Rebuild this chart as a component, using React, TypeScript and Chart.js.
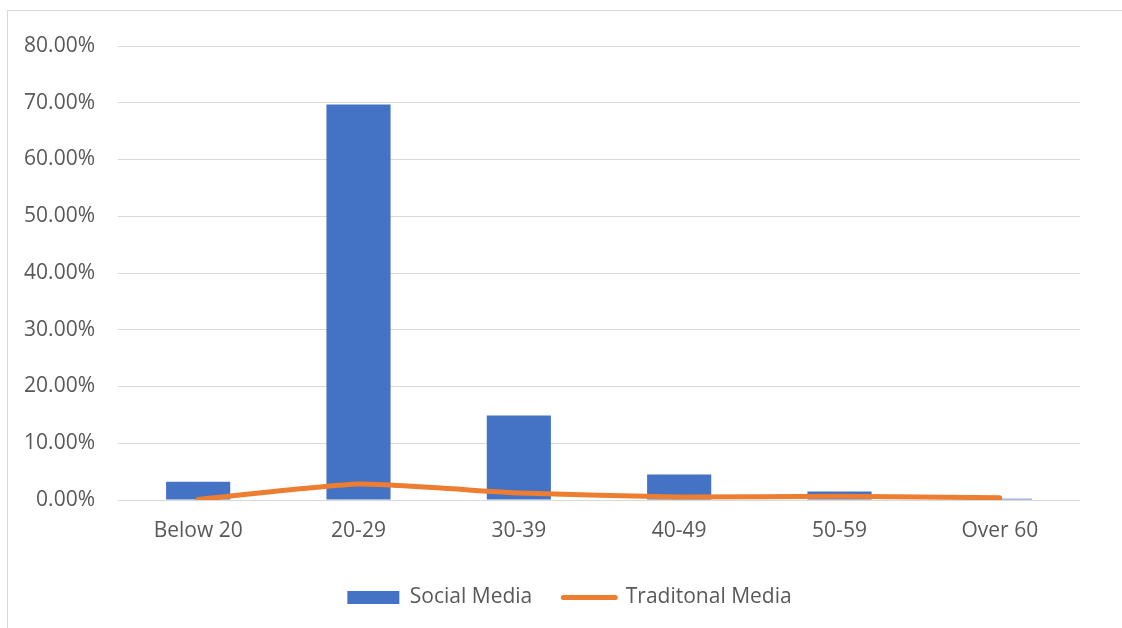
import React, { useEffect, useRef } from "react";
import { Chart, registerables } from "chart.js";

Chart.register(...registerables);

// Age groups on the category axis
const ageGroups = ["Below 20", "20-29", "30-39", "40-49", "50-59", "Over 60"];
// Share of respondents (%) per age group
const socialMedia = [3.2, 69.7, 14.9, 4.5, 1.5, 0.2];
const traditionalMedia = [0.1, 2.8, 1.25, 0.55, 0.65, 0.4];
// Value axis range (%)
const yMin = 0;
const yMax = 80;
const yStep = 10;

const FONT = "'Open Sans', 'Noto Sans', sans-serif";
const TEXT = "#595959";
const GRID = "#d9d9d9";
const BLUE = "#4472C4";
const ORANGE = "#ED7D31";

export default function App() {
  const canvasRef = useRef<HTMLCanvasElement | null>(null);

  useEffect(() => {
    document.body.style.overflow = "hidden";
    const canvas = canvasRef.current;
    if (!canvas) return;
    const chart = new Chart(canvas, {
      type: "bar",
      data: {
        labels: ageGroups,
        datasets: [
          {
            type: "bar",
            label: "Social Media",
            data: socialMedia,
            backgroundColor: BLUE,
            borderWidth: 0,
            barPercentage: 0.4,
            categoryPercentage: 1,
            order: 2,
          },
          {
            type: "line",
            label: "Traditonal Media",
            data: traditionalMedia,
            borderColor: ORANGE,
            backgroundColor: ORANGE,
            borderWidth: 5,
            borderCapStyle: "round",
            borderJoinStyle: "round",
            pointRadius: 0,
            tension: 0.15,
            order: 1,
          },
        ],
      },
      options: {
        responsive: false,
        animation: false,
        layout: { padding: { left: 12, right: 3, top: 38, bottom: 20 } },
        plugins: {
          tooltip: { enabled: false },
          legend: {
            position: "bottom",
            labels: {
              usePointStyle: true,
              pointStyleWidth: 52,
              boxHeight: 13,
              padding: 31,
              color: TEXT,
              font: { family: FONT, size: 21 },
              sort: (a: any, b: any) => a.datasetIndex - b.datasetIndex,
              generateLabels: (c: any) => {
                const items = Chart.defaults.plugins.legend.labels.generateLabels(c);
                return items.map((it: any) => {
                  if (it.datasetIndex === 0) {
                    return { ...it, pointStyle: "rect", lineWidth: 0, strokeStyle: BLUE };
                  }
                  return { ...it, pointStyle: "line", lineWidth: 5, lineCap: "round", strokeStyle: ORANGE };
                });
              },
            },
          },
        },
        scales: {
          x: {
            grid: { display: false },
            border: { display: false },
            ticks: { color: TEXT, font: { family: FONT, size: 21 }, padding: 10 },
            afterFit: (scale: any) => {
              scale.height = 56;
            },
          },
          y: {
            min: yMin,
            max: yMax,
            grid: { color: GRID, lineWidth: 1, drawTicks: false },
            border: { display: false },
            ticks: {
              stepSize: yStep,
              color: TEXT,
              padding: 23,
              font: { family: FONT, size: 21 },
              callback: (v: any) => Number(v).toFixed(2) + "%",
            },
            afterFit: (scale: any) => {
              scale.width = 98;
            },
          },
          // empty right-hand margin column beside the plot
          yRight: {
            position: "right",
            display: true,
            grid: { display: false },
            border: { display: false },
            ticks: { display: false },
            afterFit: (scale: any) => {
              scale.width = 39;
            },
          },
        },
      },
    } as any);
    return () => chart.destroy();
  }, []);

  return (
    <div style={{ position: "relative", width: 1114, height: 611, overflow: "hidden" }}>
      <canvas ref={canvasRef} width={1114} height={630} style={{ display: "block" }} />
      <div
        style={{
          position: "fixed",
          left: 7,
          width: 1130,
          top: 10,
          height: 1,
          background: GRID,
          pointerEvents: "none",
        }}
      />
      <div
        style={{
          position: "fixed",
          left: 7,
          top: 10,
          width: 1,
          bottom: 0,
          background: GRID,
          pointerEvents: "none",
        }}
      />
    </div>
  );
}
